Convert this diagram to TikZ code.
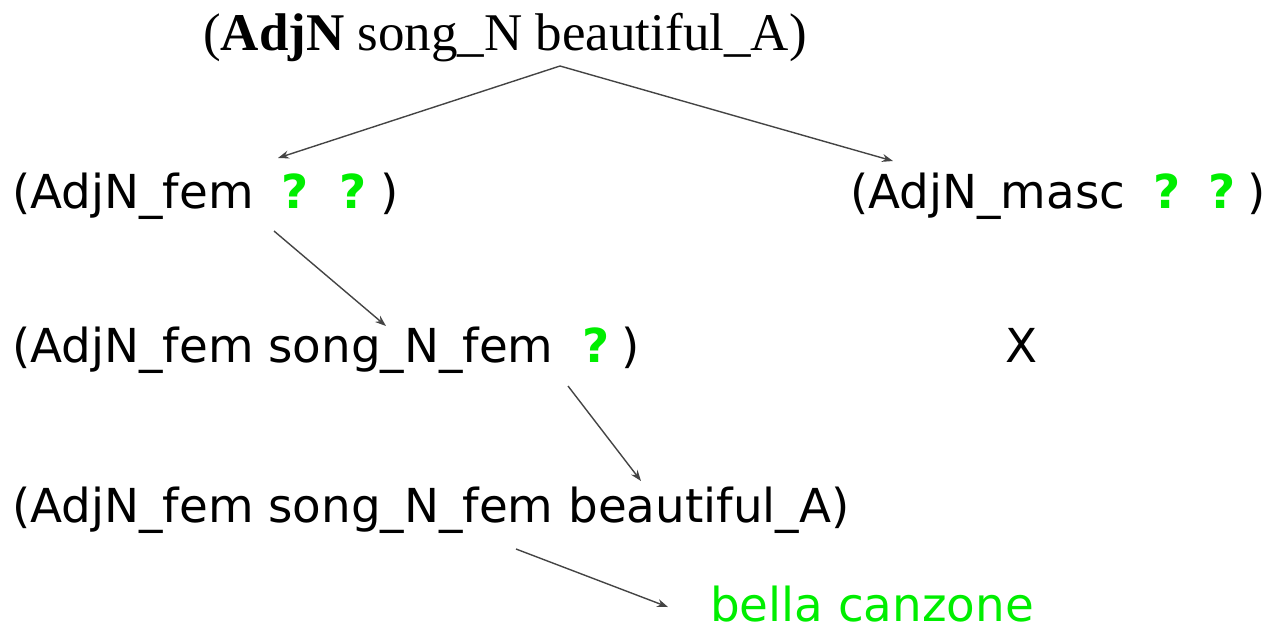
\documentclass[tikz,border=0pt]{standalone}
\usepackage{fontspec}
\usetikzlibrary{arrows.meta}
\newfontfamily\treeserif{Liberation Serif}
\newfontfamily\treesans{DejaVu Sans}
\definecolor{qgreen}{RGB}{0,238,0}
\definecolor{arrowgray}{RGB}{68,68,68}
\newcommand{\q}{{\bfseries\color{qgreen}?}}
\tikzset{
  term/.style={anchor=base west, inner sep=0pt, font=\treesans\fontsize{46.8}{52}\selectfont},
  topterm/.style={anchor=base west, inner sep=0pt, font=\treeserif\fontsize{53}{60}\selectfont},
  step arrow/.style={draw=arrowgray, line width=1.4pt, -{Stealth[length=11pt,width=8pt]}}
}
\begin{document}
\begin{tikzpicture}[x=1pt,y=-1pt]
  \useasboundingbox (0,0) rectangle (1268,630);

  % terms of the derivation
  \node[topterm] (root) at (203,50) {(\textbf{AdjN} song\_N beautiful\_A)};
  \node[term] (fem) at (12,208) {(AdjN\_fem\hspace{0.6em}\q\hspace{0.65em}\q\hspace{0.3em})};
  \node[term] (masc) at (850,208) {(AdjN\_masc\hspace{0.6em}\q\hspace{0.6em}\q\hspace{0.25em})};
  \node[term] (femnoun) at (12,362) {(AdjN\_fem song\_N\_fem\hspace{0.62em}\q\hspace{0.25em})};
  \node[term] (fail) at (1005,362) {X};
  \node[term] (full) at (12,522) {(AdjN\_fem song\_N\_fem beautiful\_A)};
  \node[term, text=qgreen] (lin) at (710,621) {bella canzone};

  % arrow end points
  \coordinate (split) at (560,66);
  \coordinate (femin) at (278,158);
  \coordinate (mascin) at (893,161);
  \coordinate (femout) at (274,231);
  \coordinate (femnounin) at (386,326);
  \coordinate (femnounout) at (568,386);
  \coordinate (fullin) at (641,481);
  \coordinate (fullout) at (516,549);
  \coordinate (linin) at (668,607);

  \draw[step arrow] (split) -- (femin);
  \draw[step arrow] (split) -- (mascin);
  \draw[step arrow] (femout) -- (femnounin);
  \draw[step arrow] (femnounout) -- (fullin);
  \draw[step arrow] (fullout) -- (linin);
\end{tikzpicture}
\end{document}
